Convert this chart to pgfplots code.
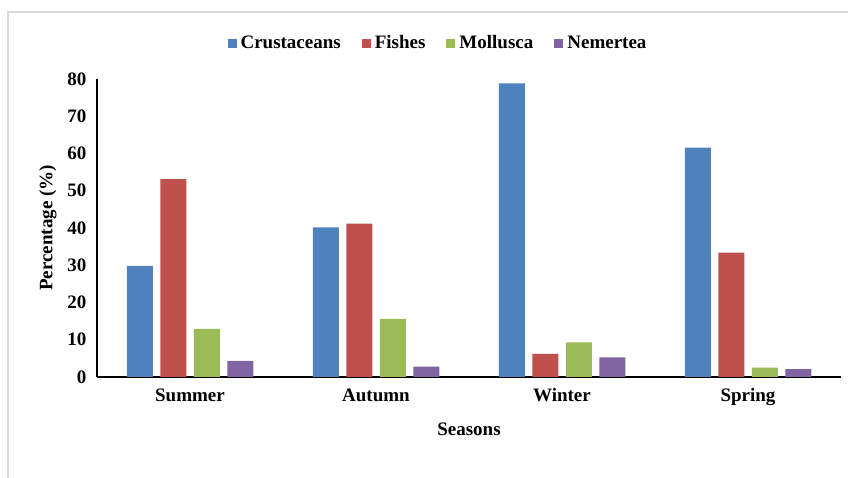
\documentclass[border=0pt]{standalone}
\usepackage{fontspec}
\setmainfont{Liberation Serif}
\usepackage{pgfplots}
\pgfplotsset{compat=1.18}
\usepackage{pgfplotstable}

\definecolor{cCrus}{HTML}{4F81BD}
\definecolor{cFish}{HTML}{C0504D}
\definecolor{cMoll}{HTML}{9BBB59}
\definecolor{cNeme}{HTML}{8064A2}
\definecolor{frameGray}{HTML}{D9D9D9}

% Percentage of prey groups per season (0 = Summer, 1 = Autumn, 2 = Winter, 3 = Spring)
\pgfplotstableread{
x  crus  fish  moll  neme
0  29.8  53.1  12.9  4.3
1  40.2  41.2  15.6  2.8
2  78.8   6.2   9.3  5.3
3  61.6  33.4   2.5  2.1
}\seasondata

\begin{document}
\fontsize{19}{22}\selectfont\bfseries
\begin{tikzpicture}[x=1pt,y=1pt]
  \useasboundingbox (0,0) rectangle (848,478);
  % chart area frame
  \draw[frameGray, line width=1.5pt] (8,0) -- (8,466) -- (848,466);
  \begin{axis}[
    at={(97pt,101pt)}, anchor=south west,
    scale only axis, width=744pt, height=298pt,
    ybar=7.5pt, bar width=26pt,
    xmin=-0.5, xmax=3.5,
    ymin=0, ymax=80,
    ytick={0,10,...,80},
    xtick={0,1,2,3},
    xticklabels={Summer,Autumn,Winter,Spring},
    axis x line*=bottom, axis y line*=left,
    axis line style={black, line width=1.6pt, -},
    major tick length=0pt,
    /pgf/number format/assume math mode=true,
    tick label style={font=\fontsize{19}{22}\selectfont\bfseries},
    yticklabel style={xshift=-4pt},
    xticklabel style={yshift=-5pt},
    xlabel={Seasons},
    ylabel={Percentage (\%)},
    label style={font=\fontsize{19}{22}\selectfont\bfseries},
    xlabel style={at={(axis description cs:0.5,-0.195)}, anchor=base},
    ylabel style={at={(axis description cs:-0.066,0.5)}, anchor=center},
    legend columns=4,
    legend style={draw=none, fill=none,
      at={(axis description cs:0.457,1.118)}, anchor=center,
      font=\fontsize{19}{22}\selectfont\bfseries,
      nodes={inner sep=0pt},
      /tikz/every odd column/.append style={column sep=4pt},
      /tikz/every even column/.append style={column sep=21pt},
      inner sep=0pt},
    legend image code/.code={\path[#1, draw=none] (0pt,-4.5pt) rectangle (9pt,4.5pt);},
    enlarge x limits=false,
  ]
    \addplot[fill=cCrus, draw=none] table[x=x, y=crus] {\seasondata};
    \addplot[fill=cFish, draw=none] table[x=x, y=fish] {\seasondata};
    \addplot[fill=cMoll, draw=none] table[x=x, y=moll] {\seasondata};
    \addplot[fill=cNeme, draw=none] table[x=x, y=neme] {\seasondata};
    \legend{Crustaceans, Fishes, Mollusca, Nemertea}
  \end{axis}
\end{tikzpicture}
\end{document}
